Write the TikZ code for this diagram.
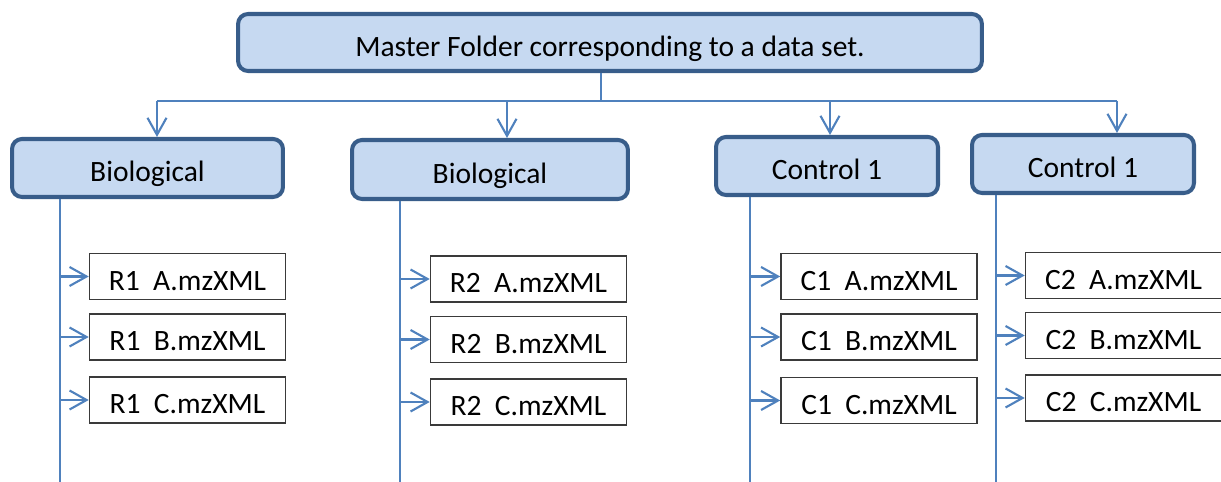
\documentclass[tikz,border=0pt]{standalone}
\usepackage{fontspec}
\setmainfont{Carlito}
\usetikzlibrary{arrows.meta}
\definecolor{boxfill}{HTML}{C6D9F1}
\definecolor{boxedge}{HTML}{385D8A}
\definecolor{wire}{HTML}{4F81BD}
\definecolor{fileedge}{HTML}{3A3A3A}

\begin{document}
\begin{tikzpicture}[
        x=0.02cm, y=-0.02cm,
        every node/.style={font=\fontsize{16.8}{19}\selectfont, text height=0.56cm, text depth=0pt},
        grp/.style={
          draw=boxedge, line width=2.3pt,
          fill=boxfill, rounded corners=0.2cm,
          inner sep=2pt, align=center,
        },
        fil/.style={
          draw=fileedge, line width=0.9pt, fill=white,
          minimum width=3.92cm, minimum height=0.92cm, inner sep=2pt,
        },
        trunk/.style={draw=wire, line width=1.1pt},
        link/.style={draw=wire, line width=1.2pt, -{Straight Barb[length=0.34cm, width=0.38cm]}},
      ]
      \useasboundingbox (0,0) rectangle (1221,482);

      \node[grp, minimum width=14.88cm, minimum height=1.14cm] (master) at (610,42.5) {Master Folder corresponding to a data set.};
      \node[grp, minimum width=5.42cm, minimum height=1.16cm] (bio1) at (147.5,168) {Biological};
      \node[grp, minimum width=5.52cm, minimum height=1.18cm] (bio2) at (490,169.5) {Biological};
      \node[grp, minimum width=4.44cm, minimum height=1.16cm] (ctl1) at (827,166) {Control 1};
      \node[grp, minimum width=4.44cm, minimum height=1.16cm] (ctl2) at (1083,164) {Control 1};

      \node[fil] (r1a) at (187.5,276.5) {R1~~A.mzXML};
      \node[fil] (r1b) at (187.5,337)   {R1~~B.mzXML};
      \node[fil] (r1c) at (187.5,400)   {R1~~C.mzXML};
      \node[fil] (r2a) at (528.5,279)   {R2~~A.mzXML};
      \node[fil] (r2b) at (528.5,339.5) {R2~~B.mzXML};
      \node[fil] (r2c) at (528.5,402)   {R2~~C.mzXML};
      \node[fil] (c1a) at (879,276.5)   {C1~~A.mzXML};
      \node[fil] (c1b) at (879,337)     {C1~~B.mzXML};
      \node[fil] (c1c) at (879,400.5)   {C1~~C.mzXML};
      \node[fil] (c2a) at (1123.5,275.5) {C2~~A.mzXML};
      \node[fil] (c2b) at (1123.5,335.5) {C2~~B.mzXML};
      \node[fil] (c2c) at (1123.5,398)   {C2~~C.mzXML};

      % master to the four groups
      \coordinate (hub) at (601,101);
      \coordinate (d1) at (157,101);
      \coordinate (d2) at (507,101);
      \coordinate (d3) at (830,101);
      \coordinate (d4) at (1117,101);
      \draw[trunk] (master.south -| hub) -- (hub);
      \draw[trunk] (d1) -- (d4);
      \draw[link] (d1) -- (d1 |- bio1.north);
      \draw[link] (d2) -- (d2 |- bio2.north);
      \draw[link] (d3) -- (d3 |- ctl1.north);
      \draw[link] (d4) -- (d4 |- ctl2.north);

      % groups to their files
      \coordinate (v1) at (60,482);
      \coordinate (v2) at (400,482);
      \coordinate (v3) at (750,482);
      \coordinate (v4) at (996,482);
      \draw[trunk] (v1 |- bio1.south) -- (v1);
      \draw[trunk] (v2 |- bio2.south) -- (v2);
      \draw[trunk] (v3 |- ctl1.south) -- (v3);
      \draw[trunk] (v4 |- ctl2.south) -- (v4);
      \draw[link] (v1 |- r1a) -- (r1a.west);
      \draw[link] (v1 |- r1b) -- (r1b.west);
      \draw[link] (v1 |- r1c) -- (r1c.west);
      \draw[link] (v2 |- r2a) -- (r2a.west);
      \draw[link] (v2 |- r2b) -- (r2b.west);
      \draw[link] (v2 |- r2c) -- (r2c.west);
      \draw[link] (v3 |- c1a) -- (c1a.west);
      \draw[link] (v3 |- c1b) -- (c1b.west);
      \draw[link] (v3 |- c1c) -- (c1c.west);
      \draw[link] (v4 |- c2a) -- (c2a.west);
      \draw[link] (v4 |- c2b) -- (c2b.west);
      \draw[link] (v4 |- c2c) -- (c2c.west);
    \end{tikzpicture}
\end{document}
